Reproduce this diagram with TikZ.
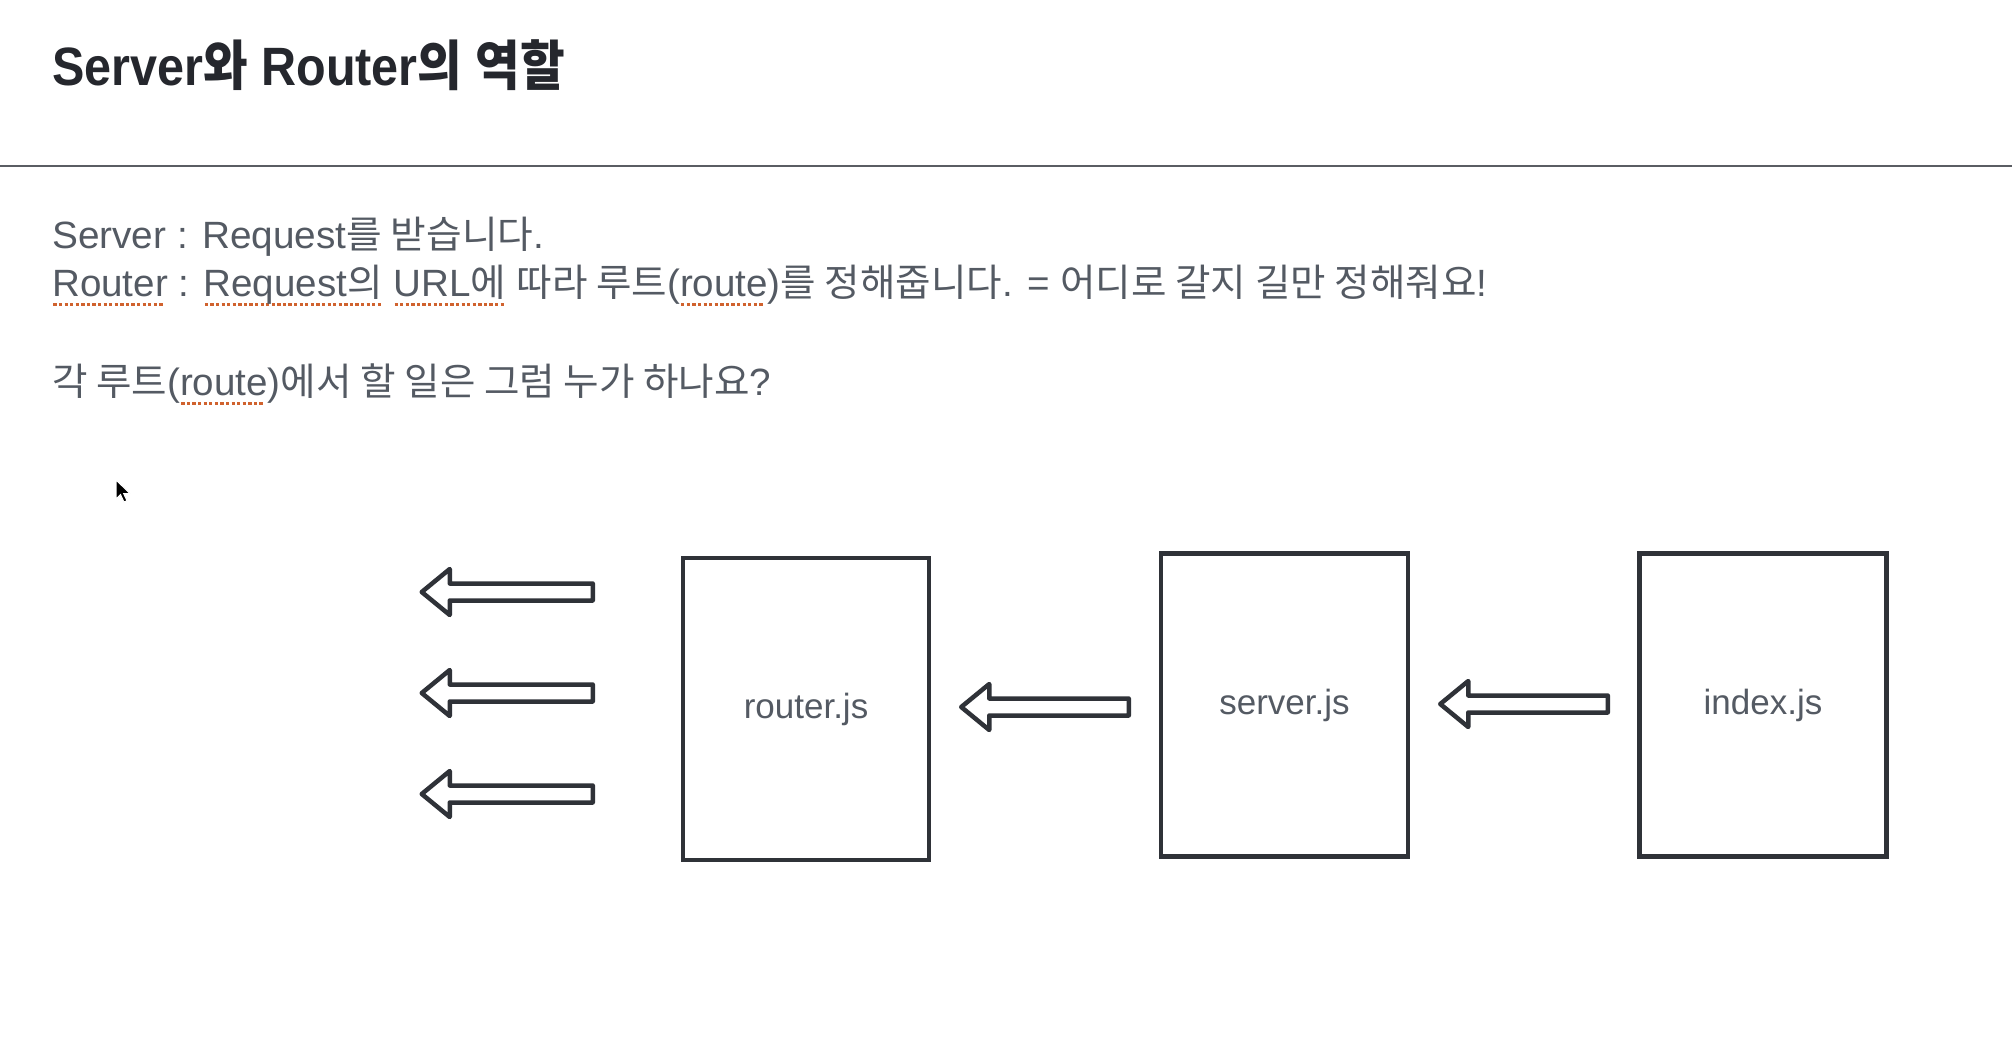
\documentclass[tikz,border=0pt]{standalone}
\usepackage{fontspec}
\usepackage{graphicx}
\setmainfont{Liberation Sans}
\newfontfamily\kr{Noto Sans CJK KR}
\usetikzlibrary{calc}
\definecolor{titlec}{HTML}{25272D}
\definecolor{bodyc}{HTML}{545A63}
\definecolor{linec}{HTML}{2F3238}
\definecolor{rulec}{HTML}{5A5D63}
\definecolor{sqred}{HTML}{D0622E}
\newcommand\K[1]{{\kr #1}}
\newcommand\sq[1]{\setbox2=\hbox{#1}\rlap{\raisebox{-10pt}{\color{sqred}\hbox to \wd2{\leaders\hbox to 5.5pt{\hss\rule{3.2pt}{3pt}\hss}\hfill}}}\box2\relax}
\newcommand\fitw[2]{\setbox4=\hbox{#2}\pgfmathsetmacro\myfac{#1/\the\wd4}\scalebox{\myfac}[1]{\box4}}
\newcommand\blockarr[2]{%
  \draw[barrow] let \p1=(#1), \p2=(#2) in
    (\x1,\y1) -- (\x1+28pt,\y1+23pt) -- (\x1+28pt,\y1+8.5pt) -- (\x2,\y1+8.5pt)
    -- (\x2,\y1-8.5pt) -- (\x1+28pt,\y1-8.5pt) -- (\x1+28pt,\y1-23pt) -- cycle;}
\tikzset{
  filebox/.style={draw=linec, line width=4.5pt, fill=white, text=bodyc,
    font=\fontsize{35}{40}\selectfont, inner sep=0},
  body/.style={anchor=base west, inner sep=0, text=bodyc, font=\fontsize{38}{44}\selectfont},
  barrow/.style={draw=linec, line width=4.5pt, fill=white, line join=round},
}
\begin{document}
\begin{tikzpicture}[x=1pt,y=-1pt]
\useasboundingbox (0,0) rectangle (2012,1042);
\fill[white] (0,0) rectangle (2012,1042);

\node[anchor=base west, inner sep=0, text=titlec, font=\fontsize{54}{60}\selectfont\bfseries] (title) at (52,85)
  {\fitw{513}{Server\K{와} Router\K{의} \K{역할}}};
\draw[rulec, line width=2pt] (0,165.5) -- (2012,165.5);

\node[body] (l1) at (52,248) {\fitw{492}{Server : Request\K{를 받습니다}.}};
\node[body] (l2) at (52,296) {\fitw{1435}{\sq{Router} : \sq{Request\K{의}} \sq{URL\K{에}} \K{따라 루트}(\sq{route})\K{를 정해줍니다}. = \K{어디로 갈지 길만 정해줘요}!}};
\node[body] (l3) at (52,395) {\fitw{719}{\K{각 루트}(\sq{route})\K{에서 할 일은 그럼 누가 하나요}?}};

% mouse pointer
\fill[black, draw=white, line width=1pt] (116,480) -- ++(0,19) -- ++(4.5,-4.5) -- ++(3.5,7.5) -- ++(3,-1.3) -- ++(-3.4,-7.2) -- ++(6.4,0) -- cycle;

\node[filebox, minimum width=246pt, minimum height=302pt] (router) at (806,709) {router.js};
\node[filebox, minimum width=247pt, minimum height=303pt] (server) at (1284.5,705) {server.js};
\node[filebox, minimum width=247pt, minimum height=303pt] (index) at (1763,705) {index.js};

\coordinate (a1tail) at ($(router.west)+(-88,-117)$);
\coordinate (a1tip) at ($(a1tail)+(-171,0)$);
\coordinate (a2tail) at ($(router.west)+(-88,-16)$);
\coordinate (a2tip) at ($(a2tail)+(-171,0)$);
\coordinate (a3tail) at ($(router.west)+(-88,85)$);
\coordinate (a3tip) at ($(a3tail)+(-171,0)$);
\coordinate (rstip) at ($(router.east)+(30,-2)$);
\coordinate (rstail) at ($(server.west)+(-30,2)$);
\coordinate (istip) at ($(server.east)+(30,-1)$);
\coordinate (istail) at ($(index.west)+(-29.5,0)$);

\blockarr{a1tip}{a1tail}
\blockarr{a2tip}{a2tail}
\blockarr{a3tip}{a3tail}
\blockarr{rstip}{rstail}
\blockarr{istip}{istail}
\end{tikzpicture}
\end{document}
